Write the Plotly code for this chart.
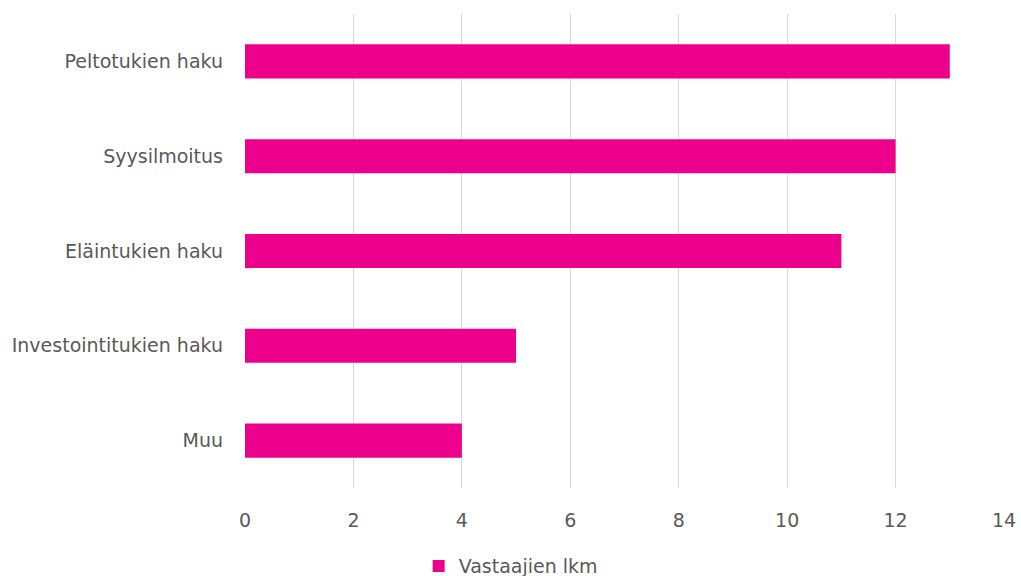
import plotly.graph_objects as go

categories = ["Peltotukien haku", "Syysilmoitus", "Eläintukien haku", "Investointitukien haku", "Muu"]
values = [13, 12, 11, 5, 4]
series_name = "Vastaajien lkm"
x_ticks = [0, 2, 4, 6, 8, 10, 12, 14]

fig = go.Figure(go.Bar(
    y=categories, x=values, orientation="h", name=series_name,
    marker=dict(color="#EC008C", line=dict(width=0)),
    showlegend=True,
))

font_family = "DejaVu Sans"
fs = 19
fig.update_layout(
    width=1021, height=576,
    margin=dict(l=245, r=17, t=14, b=88, autoexpand=False),
    paper_bgcolor="white", plot_bgcolor="white",
    bargap=0.64,
    font=dict(family=font_family, size=fs, color="#595959"),
    xaxis=dict(range=[0, 14], tickvals=x_ticks, showgrid=True, gridcolor="#D9D9D9",
               gridwidth=1, zeroline=False, showline=False, ticks="", ticklabelstandoff=19,
               automargin=False, tickfont=dict(size=fs, color="#595959")),
    yaxis=dict(autorange="reversed", showgrid=False, zeroline=False, showline=False,
               automargin=False,
               ticks="", ticklabelstandoff=21, tickfont=dict(size=fs, color="#595959")),
    legend=dict(orientation="h", x=0.35, xanchor="center", y=-0.165, yanchor="middle",
                font=dict(size=fs, color="#595959"), itemwidth=30),
)
fig.write_html(
    "out.html",
    config={"displayModeBar": False},
    post_script="document.body.style.margin='0';document.body.style.overflow='hidden';",
)
